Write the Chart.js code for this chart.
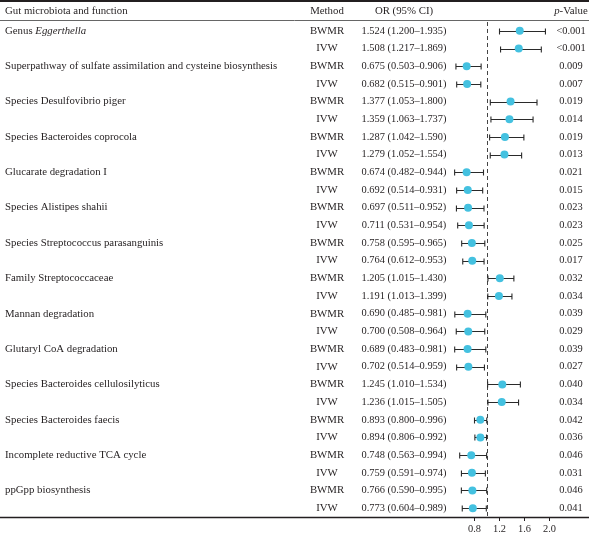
<!DOCTYPE html>
<html>
<head>
<meta charset="utf-8">
<script src="https://cdn.jsdelivr.net/npm/chart.js@4.4.1/dist/chart.umd.min.js"></script>
<style>
  html, body { margin: 0; padding: 0; background: #fff; }
  #wrap { position: relative; width: 589px; height: 536px; }
</style>
</head>
<body>
<div id="wrap"><canvas id="forest"></canvas></div>
<script>
// one label per pair of rows (BWMR, IVW)
const groupNames = [
  'Genus Eggerthella',
  'Superpathway of sulfate assimilation and cysteine biosynthesis',
  'Species Desulfovibrio piger',
  'Species Bacteroides coprocola',
  'Glucarate degradation I',
  'Species Alistipes shahii',
  'Species Streptococcus parasanguinis',
  'Family Streptococcaceae',
  'Mannan degradation',
  'Glutaryl CoA degradation',
  'Species Bacteroides cellulosilyticus',
  'Species Bacteroides faecis',
  'Incomplete reductive TCA cycle',
  'ppGpp biosynthesis'
];
const methods = ['BWMR', 'IVW'];

const orValues = [1.524, 1.508, 0.675, 0.682, 1.377, 1.359, 1.287, 1.279, 0.674, 0.692,
  0.697, 0.711, 0.758, 0.764, 1.205, 1.191, 0.690, 0.700, 0.689, 0.702,
  1.245, 1.236, 0.893, 0.894, 0.748, 0.759, 0.766, 0.773];
const ciLower = [1.200, 1.217, 0.503, 0.515, 1.053, 1.063, 1.042, 1.052, 0.482, 0.514,
  0.511, 0.531, 0.595, 0.612, 1.015, 1.013, 0.485, 0.508, 0.483, 0.514,
  1.010, 1.015, 0.800, 0.806, 0.563, 0.591, 0.590, 0.604];
const ciUpper = [1.935, 1.869, 0.906, 0.901, 1.800, 1.737, 1.590, 1.554, 0.944, 0.931,
  0.952, 0.954, 0.965, 0.953, 1.430, 1.399, 0.981, 0.964, 0.981, 0.959,
  1.534, 1.505, 0.996, 0.992, 0.994, 0.974, 0.995, 0.989];
const pValues = ['<0.001', '<0.001', '0.009', '0.007', '0.019', '0.014', '0.019', '0.013',
  '0.021', '0.015', '0.023', '0.023', '0.025', '0.017', '0.032', '0.034',
  '0.039', '0.029', '0.039', '0.027', '0.040', '0.034', '0.042', '0.036',
  '0.046', '0.031', '0.046', '0.041'];
const xTicks = [0.8, 1.2, 1.6, 2.0];

const INK = '#231f20';
const FONT = '"Liberation Serif", "DejaVu Serif", serif';
const TXT = '10.8px ' + FONT;
const NUM = '10.4px ' + FONT;
const rowCount = orValues.length;

// whiskers + reference line, drawn under the points
const forestPlugin = {
  id: 'forest',
  beforeDatasetsDraw(chart) {
    const { ctx, chartArea, scales: { x, y } } = chart;
    ctx.save();
    // dashed null line at OR = 1
    const x1 = Math.round(x.getPixelForValue(1)) + 0.5;
    ctx.strokeStyle = '#444';
    ctx.lineWidth = 1;
    ctx.setLineDash([4, 3]);
    ctx.beginPath();
    ctx.moveTo(x1, chartArea.top);
    ctx.lineTo(x1, chartArea.bottom);
    ctx.stroke();
    ctx.setLineDash([]);

    ctx.strokeStyle = '#2a2a2a';
    ctx.lineWidth = 1.1;
    for (let i = 0; i < rowCount; i++) {
      const py = Math.round(y.getPixelForValue(i)) + 0.5;
      const xl = x.getPixelForValue(ciLower[i]);
      const xr = x.getPixelForValue(ciUpper[i]);
      ctx.beginPath();
      ctx.moveTo(xl, py); ctx.lineTo(xr, py);
      ctx.moveTo(xl, py - 3); ctx.lineTo(xl, py + 3);
      ctx.moveTo(xr, py - 3); ctx.lineTo(xr, py + 3);
      ctx.stroke();
    }
    ctx.restore();
  },
  afterDraw(chart) {
    const { ctx, width, scales: { y } } = chart;
    ctx.save();
    ctx.fillStyle = INK;
    ctx.textBaseline = 'middle';
    ctx.font = TXT;

    // header
    const hy = 11;
    ctx.textAlign = 'left';
    ctx.fillText('Gut microbiota and function', 5, hy);
    ctx.textAlign = 'center';
    ctx.fillText('Method', 327, hy);
    ctx.fillText('OR (95% CI)', 404, hy);
    ctx.font = 'italic ' + TXT;
    const pw = ctx.measureText('p').width;
    ctx.font = TXT;
    const vw = ctx.measureText('-Value').width;
    ctx.textAlign = 'left';
    const px0 = 571 - (pw + vw) / 2;
    ctx.font = 'italic ' + TXT;
    ctx.fillText('p', px0, hy);
    ctx.font = TXT;
    ctx.fillText('-Value', px0 + pw, hy);

    for (let i = 0; i < rowCount; i++) {
      const py = y.getPixelForValue(i);
      ctx.font = TXT;
      if (i % 2 === 0) {
        const name = groupNames[i / 2];
        ctx.textAlign = 'left';
        if (name.startsWith('Genus ')) {
          ctx.fillText('Genus ', 5, py);
          const gw = ctx.measureText('Genus ').width;
          ctx.font = 'italic ' + TXT;
          ctx.fillText(name.slice(6), 5 + gw, py);
          ctx.font = TXT;
        } else {
          ctx.fillText(name, 5, py);
        }
      }
      ctx.textAlign = 'center';
      ctx.fillText(methods[i % 2], 327, py);
      ctx.font = NUM;
      ctx.fillText(orValues[i].toFixed(3) + ' (' + ciLower[i].toFixed(3) + '\u2013' + ciUpper[i].toFixed(3) + ')', 404, py);
      ctx.fillText(pValues[i], 571, py);
    }

    // table rules
    ctx.strokeStyle = INK;
    ctx.lineWidth = 2;
    ctx.beginPath(); ctx.moveTo(0, 1); ctx.lineTo(width, 1); ctx.stroke();
    ctx.strokeStyle = '#666';
    ctx.lineWidth = 1;
    ctx.beginPath(); ctx.moveTo(0, 20.5); ctx.lineTo(width, 20.5); ctx.stroke();
    ctx.strokeStyle = INK;
    ctx.lineWidth = 1.5;
    ctx.beginPath(); ctx.moveTo(0, 517.5); ctx.lineTo(width, 517.5); ctx.stroke();
    ctx.restore();
  }
};

new Chart(document.getElementById('forest'), {
  type: 'scatter',
  data: {
    datasets: [{
      data: orValues.map((v, i) => ({ x: v, y: i })),
      backgroundColor: '#44c1e0',
      borderWidth: 0,
      pointRadius: 4,
      pointHoverRadius: 4
    }]
  },
  options: {
    responsive: true,
    maintainAspectRatio: false,
    animation: false,
    layout: { padding: { left: 449.5, right: 33.25, top: 22, bottom: 0 } },
    plugins: { legend: { display: false }, tooltip: { enabled: false } },
    scales: {
      x: {
        type: 'linear',
        min: 0.4,
        max: 2.1,
        afterBuildTicks: s => { s.ticks = xTicks.map(v => ({ value: v })); },
        afterFit: s => { s.height = 19; },
        border: { display: false },
        grid: { drawOnChartArea: false, drawTicks: true, tickLength: 4, color: INK },
        ticks: {
          autoSkip: false,
          maxRotation: 0,
          padding: 2,
          color: INK,
          font: { family: FONT, size: 10.4 },
          callback: v => Number(v).toFixed(1)
        }
      },
      y: {
        type: 'linear',
        display: false,
        reverse: true,
        min: -0.5,
        max: rowCount - 0.5
      }
    }
  },
  plugins: [forestPlugin]
});
</script>
</body>
</html>
